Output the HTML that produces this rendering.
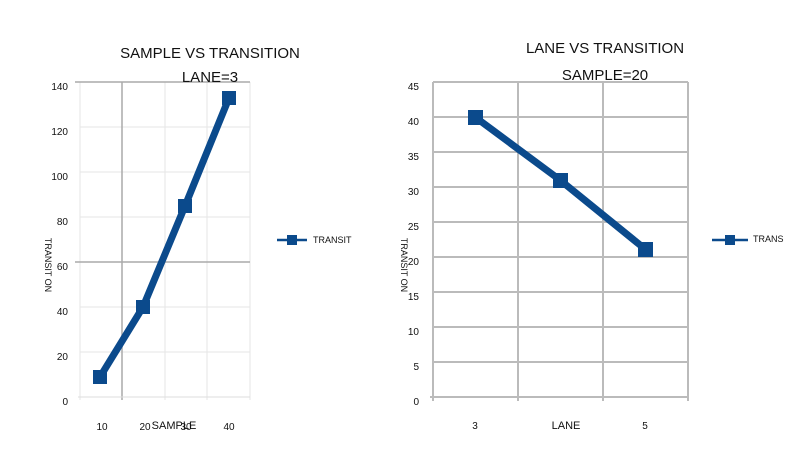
<!DOCTYPE html>
<html><head><style>body{margin:0;background:#fff}svg{display:block}text{font-family:"Liberation Sans",sans-serif;fill:#111}</style></head><body>
<svg width="800" height="450" viewBox="0 0 800 450">
<g stroke="#e6e6e6" stroke-width="1">
<line x1="80" y1="127" x2="250" y2="127"/><line x1="80" y1="172" x2="250" y2="172"/><line x1="80" y1="217" x2="250" y2="217"/><line x1="80" y1="307" x2="250" y2="307"/><line x1="80" y1="352" x2="250" y2="352"/>
<line x1="80" y1="82" x2="80" y2="400"/><line x1="165" y1="82" x2="165" y2="400"/><line x1="207" y1="82" x2="207" y2="400"/><line x1="250" y1="82" x2="250" y2="400"/>
</g>
<g stroke="#aaa" stroke-width="1.5"><line x1="75" y1="82" x2="250" y2="82"/><line x1="75" y1="262" x2="250" y2="262"/><line x1="122" y1="82" x2="122" y2="400"/></g>
<line x1="78" y1="397" x2="250" y2="397" stroke="#ddd"/>
<g font-size="10" text-anchor="end"><text x="68" y="90">140</text><text x="68" y="135">120</text><text x="68" y="180">100</text><text x="68" y="225">80</text><text x="68" y="270">60</text><text x="68" y="315">40</text><text x="68" y="360">20</text><text x="68" y="405">0</text></g>
<g font-size="10" text-anchor="middle"><text x="102" y="430">10</text><text x="145" y="430">20</text><text x="186" y="430">30</text><text x="229" y="430">40</text><text x="174" y="429" font-size="11">SAMPLE</text></g>
<text x="210" y="58" font-size="15" text-anchor="middle">SAMPLE VS TRANSITION</text>
<text x="210" y="82" font-size="15" text-anchor="middle">LANE=3</text>
<text x="45" y="265" font-size="9" transform="rotate(90 45 265)" text-anchor="middle">TRANSIT ON</text>
<polyline points="100,377 143,307 185,206 229,98" fill="none" stroke="#0b4a8c" stroke-width="7"/>
<g fill="#0b4a8c"><rect x="93" y="370" width="14" height="14"/><rect x="136" y="300" width="14" height="14"/><rect x="178" y="199" width="14" height="14"/><rect x="222" y="91" width="14" height="14"/></g>
<line x1="277" y1="240" x2="307" y2="240" stroke="#0b4a8c" stroke-width="2.5"/><rect x="287" y="235" width="10" height="10" fill="#0b4a8c"/>
<text x="313" y="243" font-size="9">TRANSIT</text>

<g stroke="#bbb" stroke-width="2" fill="none">
<line x1="433" y1="82" x2="688" y2="82"/><line x1="433" y1="117" x2="688" y2="117"/><line x1="433" y1="152" x2="688" y2="152"/><line x1="433" y1="187" x2="688" y2="187"/><line x1="433" y1="222" x2="688" y2="222"/><line x1="433" y1="257" x2="688" y2="257"/><line x1="433" y1="292" x2="688" y2="292"/><line x1="433" y1="327" x2="688" y2="327"/><line x1="433" y1="362" x2="688" y2="362"/><line x1="430" y1="397" x2="688" y2="397"/>
<line x1="433" y1="82" x2="433" y2="401"/><line x1="518" y1="82" x2="518" y2="401"/><line x1="603" y1="82" x2="603" y2="401"/><line x1="688" y1="82" x2="688" y2="401"/>
</g>
<g font-size="10" text-anchor="end"><text x="419" y="90">45</text><text x="419" y="125">40</text><text x="419" y="160">35</text><text x="419" y="195">30</text><text x="419" y="230">25</text><text x="419" y="265">20</text><text x="419" y="300">15</text><text x="419" y="335">10</text><text x="419" y="370">5</text><text x="419" y="405">0</text></g>
<g font-size="10" text-anchor="middle"><text x="475" y="429">3</text><text x="566" y="429" font-size="11">LANE</text><text x="645" y="429">5</text></g>
<text x="605" y="53" font-size="15" text-anchor="middle">LANE VS TRANSITION</text>
<text x="605" y="80" font-size="15" text-anchor="middle">SAMPLE=20</text>
<text x="401" y="265" font-size="9" transform="rotate(90 401 265)" text-anchor="middle">TRANSIT ON</text>
<polyline points="475,117 560,180 645,249" fill="none" stroke="#0b4a8c" stroke-width="7"/>
<g fill="#0b4a8c"><rect x="468" y="110" width="15" height="15"/><rect x="553" y="173" width="15" height="15"/><rect x="638" y="242" width="15" height="15"/></g>
<line x1="712" y1="240" x2="748" y2="240" stroke="#0b4a8c" stroke-width="2.5"/><rect x="725" y="235" width="10" height="10" fill="#0b4a8c"/>
<text x="753" y="242" font-size="9">TRANS</text>
</svg>
</body></html>
